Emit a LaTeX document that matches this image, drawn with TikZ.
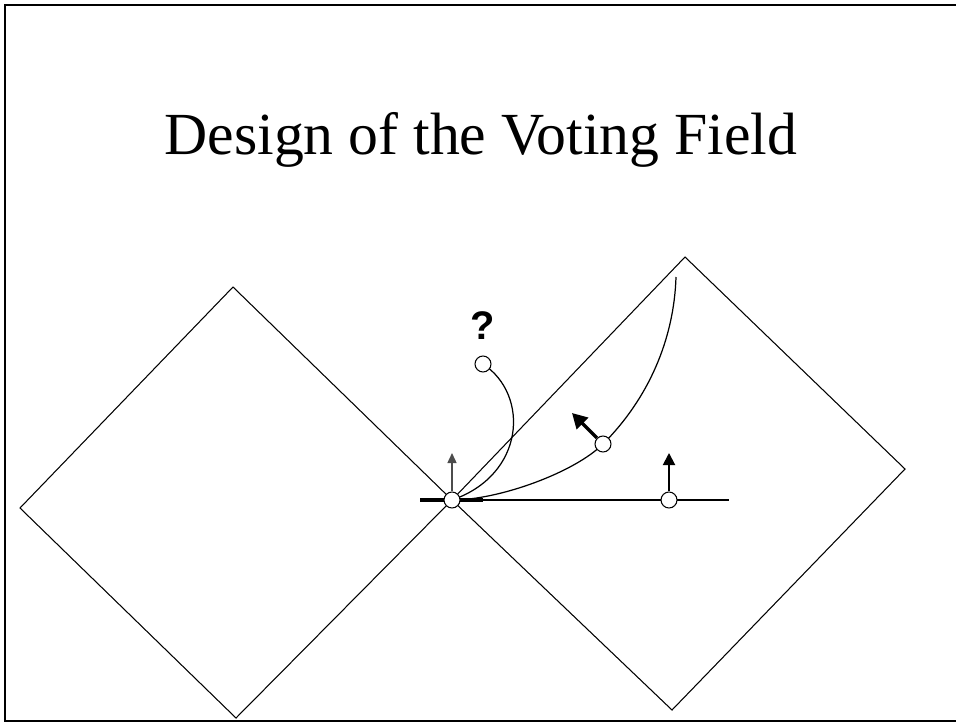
\documentclass[tikz,border=0pt]{standalone}
\usepackage{fontspec}
\setmainfont{Liberation Serif}
\setsansfont{Liberation Sans}
\usetikzlibrary{arrows.meta, positioning, backgrounds}

\begin{document}
\begin{tikzpicture}[
  x=0.02cm, y=-0.02cm,
  edge/.style={line width=0.6pt},
  vote/.style={draw, circle, fill=white, inner sep=0pt, minimum size=0.32cm,
               line width=0.6pt},
  curve/.style={line width=0.7pt},
  normal/.style={-{Triangle[length=0.24cm, width=0.24cm]}, line width=1.1pt},
  stick/.style={-{Triangle[length=0.2cm, width=0.18cm]}, line width=0.8pt, black!70},
  grad/.style={-{Triangle[length=0.3cm, width=0.32cm]}, line width=1.9pt}
]
  \useasboundingbox (0,0) rectangle (956,723);
  \draw[line width=1.2pt] (5,5) rectangle (964,721);

  \node[anchor=base, font=\fontsize{34}{40}\selectfont] (title) at (481,154)
    {Design of the Voting Field};

  \draw[edge] (233,287) -- (20,508) -- (236,718) -- (452,500) -- cycle;
  \draw[edge] (685,257) -- (452,500) -- (672,710) -- (905,469) -- cycle;

  \node[vote] (origin) at (452,500) {};
  \node[vote] (query) at (483,364) {};
  \node[vote] (arc) at (603,444) {};
  \node[vote] (line) at (669,500) {};
  \node[anchor=base, font=\sffamily\bfseries\fontsize{22.7}{26}\selectfont]
    (mark) at (483,339) {?};

  \coordinate (tanl) at (420,500);
  \coordinate (tanr) at (483,500);
  \coordinate (lineend) at (729,500);
  \coordinate (arcend) at (676,277);
  \coordinate (origintip) at (452,453);
  \coordinate (linetip) at (669,453);
  \coordinate (arctip) at (572,413);

  \begin{scope}[on background layer]
    \draw[line width=1pt] (origin.center) -- (lineend);
    \draw[line width=1.8pt] (tanl) -- (tanr);
    \draw[curve] (origin.center) .. controls (500,500) and (575,472) .. (arc.center)
      .. controls (648,399) and (674,340) .. (arcend);
    \draw[curve] (origin.center) .. controls (525,475) and (530,395) .. (query.center);
  \end{scope}

  \draw[stick] (origin) -- (origintip);
  \draw[normal] (line) -- (linetip);
  \draw[grad] (arc) -- (arctip);
\end{tikzpicture}
\end{document}
